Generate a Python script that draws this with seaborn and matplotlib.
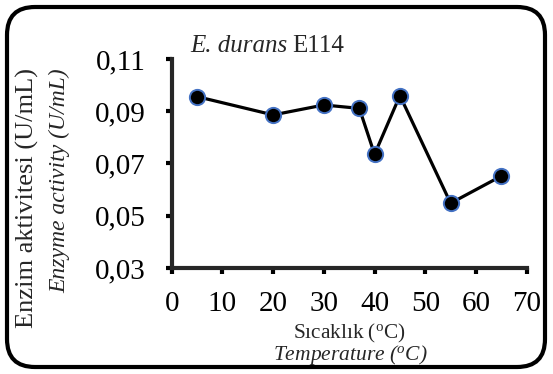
import matplotlib
matplotlib.use("Agg")
import matplotlib.pyplot as plt
from matplotlib.patches import FancyBboxPatch
from matplotlib.ticker import FuncFormatter
import seaborn as sns
import pandas as pd

# Enzyme activity of E. durans E114 at different temperatures
temperature = [5, 20, 30, 37, 40, 45, 55, 65]
activity = [0.0956, 0.0886, 0.0924, 0.0911, 0.0735, 0.0960, 0.0548, 0.0652]
x_ticks = [0, 10, 20, 30, 40, 50, 60, 70]
y_ticks = [0.03, 0.05, 0.07, 0.09, 0.11]

title_species = "E. durans"
title_strain = "E114"
ylabel_tr = "Enzim aktivitesi (U/mL)"
ylabel_en = "Enzyme activity (U/mL)"
xlabel_tr = r"Sıcaklık ($^{\mathrm{o}}$C)"
xlabel_en = r"Temperature ($^{o}$C)"

sns.set_style("ticks")
plt.rcParams["font.family"] = ["Liberation Serif", "DejaVu Serif"]
plt.rcParams["mathtext.fontset"] = "custom"
plt.rcParams["mathtext.rm"] = "Liberation Serif"
plt.rcParams["mathtext.it"] = "Liberation Serif:italic"

W, H = 553, 374
fig = plt.figure(figsize=(W / 100, H / 100), dpi=100)

# rounded outer frame drawn in pixel coordinates
bg = fig.add_axes([0, 0, 1, 1], zorder=0)
bg.set_xlim(0, W)
bg.set_ylim(H, 0)
bg.axis("off")
frame = FancyBboxPatch((7, 7), W - 15, H - 14,
                       boxstyle="round,pad=0,rounding_size=28",
                       facecolor="white", edgecolor="black", linewidth=3.0)
bg.add_patch(frame)

ax = fig.add_axes([171.7 / W, 1 - 268 / H, (526.7 - 171.7) / W, (268 - 59) / H], zorder=1)
ax.patch.set_alpha(0)

df = pd.DataFrame({"temperature": temperature, "activity": activity})
sns.lineplot(data=df, x="temperature", y="activity", ax=ax, color="black",
             linewidth=2.3, marker="o", markersize=11,
             markerfacecolor="black", markeredgecolor="#4472C4",
             markeredgewidth=1.4, clip_on=False)

ax.set_xlim(0, 70)
ax.set_ylim(0.03, 0.11)
ax.set_xticks(x_ticks)
ax.set_yticks(y_ticks)
ax.yaxis.set_major_formatter(FuncFormatter(lambda v, p: f"{v:.2f}".replace(".", ",")))
ax.set_xlabel("")
ax.set_ylabel("")
sns.despine(ax=ax)
for s in ("left", "bottom"):
    ax.spines[s].set_linewidth(3.0)
ax.tick_params(axis="both", direction="out", length=4.5, width=3.0,
               labelsize=21, colors="black")
ax.tick_params(axis="y", pad=14)
ax.tick_params(axis="x", pad=12)

# title: italic species name followed by upright strain code
t1 = fig.text(190 / W, 1 - 46 / H, title_species, fontsize=18, style="italic",
              ha="left", va="center")
fig.canvas.draw()
x_end = t1.get_window_extent().x1
fig.text((x_end + 5) / W, 1 - 46 / H, title_strain, fontsize=18,
         ha="left", va="center")

# two-line y label
fig.text(27 / W, 1 - 68 / H, ylabel_tr, fontsize=19, rotation=90,
         ha="center", va="top")
fig.text(60 / W, 1 - 68 / H, ylabel_en, fontsize=17, rotation=90,
         style="italic", ha="center", va="top")

# two-line x label
fig.text(349 / W, 1 - 333 / H, xlabel_tr, fontsize=15.3, ha="center", va="center")
fig.text(350 / W, 1 - 355 / H, xlabel_en, fontsize=15.5, style="italic",
         ha="center", va="center")

fig.savefig("out.png", dpi=100)
